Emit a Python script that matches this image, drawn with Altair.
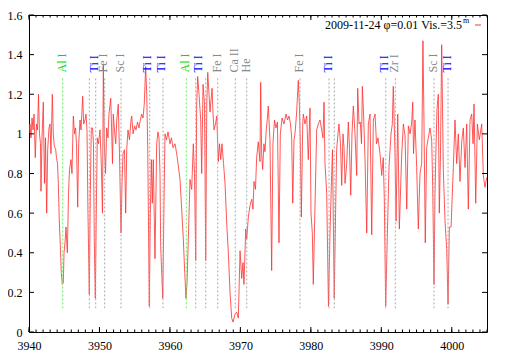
import altair as alt
import pandas as pd

# ---- spectrum ----
wavelength = [
    3940.00, 3940.14, 3940.28, 3940.43, 3940.57, 3940.71, 3940.89, 3941.06, 3941.21, 3941.35,
    3941.49, 3941.63, 3941.70, 3941.85, 3942.03, 3942.13, 3942.20, 3942.34, 3942.51, 3942.65,
    3942.84, 3942.98, 3943.12, 3943.31, 3943.45, 3943.59, 3943.79, 3943.90, 3944.05, 3944.16,
    3944.31, 3944.44, 3944.58, 3944.73, 3944.87, 3944.97, 3945.11, 3945.25, 3945.44, 3945.61,
    3945.75, 3945.96, 3946.10, 3946.29, 3946.46, 3946.60, 3946.74, 3946.91, 3947.05, 3947.24,
    3947.38, 3947.62, 3947.76, 3947.95, 3948.09, 3948.23, 3948.37, 3948.56, 3948.70, 3948.84,
    3949.01, 3949.15, 3949.27, 3949.41, 3949.55, 3949.69, 3949.86, 3950.08, 3950.26, 3950.43,
    3950.55, 3950.69, 3950.86, 3951.03, 3951.21, 3951.35, 3951.60, 3951.74, 3951.85, 3951.96,
    3952.13, 3952.31, 3952.45, 3952.67, 3952.84, 3953.06, 3953.20, 3953.34, 3953.55, 3953.72,
    3953.87, 3954.05, 3954.26, 3954.48, 3954.58, 3954.77, 3954.98, 3955.19, 3955.40, 3955.61,
    3955.75, 3955.99, 3956.18, 3956.36, 3956.56, 3956.71, 3956.85, 3957.07, 3957.22, 3957.36,
    3957.50, 3957.64, 3957.88, 3958.12, 3958.31, 3958.45, 3958.59, 3958.69, 3958.98, 3959.16,
    3959.30, 3959.52, 3959.73, 3960.01, 3960.22, 3960.44, 3960.72, 3960.96, 3961.15, 3961.43,
    3961.67, 3961.90, 3962.10, 3962.28, 3962.43, 3962.61, 3962.85, 3963.09, 3963.32, 3963.49,
    3963.66, 3963.80, 3963.94, 3964.13, 3964.37, 3964.51, 3964.70, 3964.91, 3965.08, 3965.23,
    3965.37, 3965.55, 3965.69, 3965.98, 3966.12, 3966.26, 3966.47, 3966.64, 3966.87, 3967.04,
    3967.21, 3967.39, 3967.61, 3967.82, 3968.06, 3968.29, 3968.53, 3968.77, 3968.96, 3969.24,
    3969.48, 3969.71, 3969.95, 3970.19, 3970.37, 3970.51, 3970.76, 3970.90, 3971.13, 3971.37,
    3971.61, 3971.79, 3971.93, 3972.14, 3972.31, 3972.54, 3972.78, 3972.88, 3973.02, 3973.16,
    3973.34, 3973.49, 3973.67, 3973.81, 3973.96, 3974.20, 3974.44, 3974.62, 3974.84, 3975.05,
    3975.26, 3975.48, 3975.67, 3975.91, 3976.19, 3976.48, 3976.69, 3976.90, 3977.11, 3977.28,
    3977.43, 3977.61, 3977.75, 3977.97, 3978.22, 3978.37, 3978.51, 3978.65, 3978.85, 3978.93,
    3979.17, 3979.41, 3979.64, 3979.88, 3980.02, 3980.21, 3980.35, 3980.59, 3980.83, 3981.06,
    3981.30, 3981.54, 3981.72, 3981.87, 3982.01, 3982.25, 3982.50, 3982.72, 3982.95, 3983.07,
    3983.32, 3983.52, 3983.66, 3983.85, 3983.99, 3984.21, 3984.38, 3984.56, 3984.71, 3984.85,
    3985.09, 3985.32, 3985.49, 3985.66, 3985.84, 3986.03, 3986.27, 3986.51, 3986.65, 3986.84,
    3987.02, 3987.19, 3987.31, 3987.48, 3987.69, 3987.93, 3988.16, 3988.40, 3988.64, 3988.87,
    3989.11, 3989.32, 3989.53, 3989.82, 3990.06, 3990.28, 3990.42, 3990.62, 3990.85, 3991.09,
    3991.38, 3991.56, 3991.70, 3991.95, 3992.09, 3992.33, 3992.56, 3992.90, 3993.13, 3993.37,
    3993.61, 3993.84, 3994.08, 3994.32, 3994.46, 3994.57, 3994.78, 3995.02, 3995.25, 3995.49,
    3995.73, 3995.91, 3996.06, 3996.24, 3996.44, 3996.67, 3996.91, 3997.15, 3997.29, 3997.48,
    3997.62, 3997.76, 3997.91, 3998.09, 3998.23, 3998.40, 3998.57, 3998.80, 3999.04, 3999.28,
    3999.47, 3999.66, 3999.90, 4000.22, 4000.46, 4000.70, 4000.93, 4001.17, 4001.41, 4001.64,
    4001.88, 4002.12, 4002.35, 4002.59, 4002.83, 4003.02, 4003.16, 4003.40, 4003.63, 4003.91,
    4004.25, 4004.48, 4004.72, 4004.96,
]
flux = [
    1.00, 1.05, 0.98, 1.08, 1.02, 1.10, 0.88, 1.05, 1.02, 1.20,
    1.00, 0.95, 0.71, 0.98, 1.16, 0.90, 0.75, 0.98, 0.60, 0.92,
    1.03, 1.05, 0.90, 1.20, 1.00, 0.94, 0.92, 0.88, 0.85, 0.75,
    0.55, 0.44, 0.30, 0.24, 0.25, 0.40, 0.45, 0.53, 0.40, 0.70,
    0.82, 0.87, 0.80, 1.09, 1.00, 1.03, 0.95, 0.63, 0.95, 1.07,
    1.02, 1.19, 1.05, 1.07, 1.10, 1.02, 0.60, 0.19, 0.70, 1.03,
    1.03, 0.95, 0.45, 0.17, 0.60, 0.98, 0.95, 1.02, 0.85, 0.60,
    1.35, 0.95, 0.80, 1.03, 0.98, 1.10, 1.18, 1.00, 0.85, 1.10,
    1.02, 0.95, 1.07, 1.15, 0.90, 0.50, 0.75, 0.90, 0.92, 0.60,
    0.92, 1.02, 0.97, 1.07, 1.09, 1.00, 1.04, 1.02, 1.06, 1.03,
    1.06, 1.10, 1.08, 1.15, 1.34, 1.20, 0.94, 0.13, 0.60, 0.87,
    0.65, 0.87, 0.37, 0.95, 1.01, 0.98, 0.80, 0.43, 0.17, 0.65,
    1.00, 0.97, 1.01, 0.95, 0.98, 0.93, 0.95, 0.90, 0.85, 0.77,
    0.62, 0.47, 0.30, 0.17, 0.25, 0.47, 0.77, 0.72, 0.95, 0.80,
    0.36, 1.15, 1.29, 1.20, 1.07, 0.80, 1.25, 1.15, 0.36, 1.15,
    1.31, 1.20, 1.11, 1.23, 1.10, 1.02, 1.05, 1.09, 0.86, 0.95,
    0.87, 0.95, 0.85, 0.75, 0.55, 0.40, 0.20, 0.07, 0.05, 0.09,
    0.10, 0.07, 0.41, 0.27, 0.35, 0.24, 0.52, 0.47, 0.58, 0.64,
    0.67, 0.62, 0.76, 0.72, 0.88, 0.96, 0.86, 1.26, 0.90, 0.82,
    0.95, 0.91, 1.02, 1.07, 1.14, 0.97, 0.31, 0.95, 1.07, 1.03,
    1.06, 0.45, 1.00, 1.08, 1.05, 1.10, 1.07, 1.09, 1.05, 0.98,
    0.65, 0.97, 1.00, 1.10, 1.27, 1.15, 0.95, 0.58, 1.05, 1.10,
    1.05, 1.09, 0.87, 1.13, 0.60, 0.50, 0.24, 0.64, 1.02, 1.05,
    1.07, 1.02, 0.98, 1.16, 0.85, 0.70, 0.13, 0.50, 0.79, 0.92,
    0.17, 0.62, 0.92, 1.00, 1.05, 0.95, 0.74, 1.00, 0.93, 0.75,
    0.85, 1.06, 0.92, 0.69, 1.00, 1.14, 1.00, 0.79, 1.23, 1.05,
    1.06, 0.95, 1.24, 1.10, 0.87, 0.50, 1.05, 1.10, 0.49, 1.07,
    1.10, 0.95, 0.98, 0.90, 0.79, 0.88, 0.68, 0.13, 0.48, 0.83,
    1.00, 1.05, 1.24, 0.89, 0.56, 1.10, 0.52, 0.90, 1.05, 0.99,
    0.62, 1.04, 1.00, 1.06, 1.16, 0.90, 1.07, 0.83, 0.52, 0.80,
    0.85, 1.47, 1.05, 0.45, 0.93, 0.98, 1.03, 0.97, 0.74, 0.24,
    0.70, 0.93, 1.13, 1.20, 0.60, 0.90, 1.45, 0.82, 0.56, 0.42,
    0.14, 0.53, 0.53, 0.83, 1.07, 0.85, 1.00, 0.76, 0.96, 1.03,
    0.83, 1.05, 0.62, 1.07, 1.10, 0.95, 1.15, 0.65, 1.05, 0.97,
    1.05, 0.79, 0.73, 0.78,
]

# ---- identified lines (dashed markers) ----
marker_wl = [3944.78, 3948.56, 3949.47, 3950.74, 3953.06, 3957.13, 3959.02, 3962.33,
             3963.66, 3965.08, 3966.78, 3969.28, 3970.90, 3978.46, 3982.58, 3983.33,
             3990.63, 3991.99, 3997.48, 3999.47]
marker_el = ["Al I", "Ti I", "Ti I", "Fe I", "Sc I", "Ti I", "Ti I", "Al I",
             "Ti I", "Ti I", "Fe I", "Ca II", "He", "Fe I", "Ti I", "Ti I",
             "Ti I", "Zr I", "Sc I", "Ti I"]

# ---- line labels ----
label_wl = [3944.64, 3949.27, 3950.55, 3952.92, 3956.70, 3958.73, 3962.18, 3964.00,
            3966.73, 3969.14, 3970.76, 3978.32, 3982.44, 3990.43, 3991.85, 3997.39, 3999.28]
label_text = ["Al I", "Ti I", "Fe I", "Sc I", "Ti I", "Ti I", "Al I", "Ti I",
              "Fe I", "Ca II", "He", "Fe I", "Ti I", "Ti I", "Zr I", "Sc I", "Ti I"]

x_major = [3940, 3950, 3960, 3970, 3980, 3990, 4000]
x_minor = list(range(3940, 4006))
y_major = [0, 0.2, 0.4, 0.6, 0.8, 1.0, 1.2, 1.4, 1.6]

legend_text = ["2009-11-24 \u03c6=0.01 Vis.=3.5"]
legend_sup = ["m"]

W, H = 458, 317
FONT = "Liberation Serif"

xs = alt.Scale(domain=[3940, 4005], nice=False, zero=False)
ys = alt.Scale(domain=[0, 1.6], nice=False, zero=False)

x_axis = alt.Axis(values=x_major, format="d", title=None, grid=False, ticks=False, tickSize=0,
                  domain=False, labelFont=FONT, labelFontSize=12, labelColor="black",
                  labelPadding=8, labelOverlap=False, labelFlush=False, labelBound=False)
y_axis = alt.Axis(values=y_major, format="~g", title=None, grid=False, ticks=False, tickSize=0,
                  domain=False, labelFont=FONT, labelFontSize=12, labelColor="black",
                  labelPadding=7, labelOverlap=False, labelFlush=False, labelBound=False)

spec_df = pd.DataFrame({"wl": wavelength, "flux": flux})
mark_df = pd.DataFrame({"wl": marker_wl, "el": marker_el})
lab_df = pd.DataFrame({"wl": label_wl, "name": label_text})

spectrum = alt.Chart(spec_df).mark_line(color="#ff3030", strokeWidth=0.9, opacity=0.9,
                                        clip=True).encode(
    x=alt.X("wl:Q", scale=xs, axis=x_axis),
    y=alt.Y("flux:Q", scale=ys, axis=y_axis),
)

markers = alt.Chart(mark_df).mark_rule(strokeDash=[2, 2], strokeWidth=1).encode(
    x=alt.X("wl:Q", scale=xs, axis=x_axis),
    y=alt.YDatum(1.28, scale=ys, axis=y_axis),
    y2=alt.datum(0.12),
    color=alt.condition(alt.datum.el == "Al I", alt.value("#66ee66"), alt.value("#aaaaaa")),
)

labels = alt.Chart(lab_df).mark_text(angle=270, align="left", baseline="middle",
                                     font=FONT, fontSize=12).encode(
    x=alt.X("wl:Q", scale=xs, axis=x_axis),
    y=alt.YDatum(1.31, scale=ys, axis=y_axis),
    text="name:N",
    color=alt.Color("name:N", legend=None, scale=alt.Scale(
        domain=["Al I", "Ti I", "Fe I", "Sc I", "Ca II", "He", "Zr I"],
        range=["#00dd00", "#0000ff", "#888888", "#888888", "#888888", "#888888", "#888888"])),
)

def xticks(vals, y0, y1):
    return alt.Chart(pd.DataFrame({"t": vals})).mark_rule(color="black", strokeWidth=1).encode(
        x=alt.X("t:Q", scale=xs, axis=x_axis), y=alt.value(y0), y2=alt.value(y1))

def yticks(vals, x0, x1):
    return alt.Chart(pd.DataFrame({"t": vals})).mark_rule(color="black", strokeWidth=1).encode(
        y=alt.Y("t:Q", scale=ys, axis=y_axis), x=alt.value(x0), x2=alt.value(x1))

ticks = [
    xticks(x_major, H, H - 5), xticks(x_minor, H, H - 2.5),
    xticks(x_major, 0, 5), xticks(x_minor, 0, 2.5),
    yticks(y_major, 0, 5), yticks(y_major, W, W - 5),
]

leg = alt.Chart(pd.DataFrame({"t": legend_text})).mark_text(
    align="right", baseline="alphabetic", font=FONT, fontSize=12, color="black").encode(
    x=alt.value(433), y=alt.value(14), text="t:N")
leg_sup = alt.Chart(pd.DataFrame({"t": legend_sup})).mark_text(
    align="left", baseline="alphabetic", font=FONT, fontSize=8, color="black").encode(
    x=alt.value(434), y=alt.value(8), text="t:N")
leg_line = alt.Chart(pd.DataFrame({"t": legend_text})).mark_rule(color="#ff3030", strokeWidth=1).encode(
    x=alt.value(446), x2=alt.value(452), y=alt.value(10))

chart = alt.layer(spectrum, markers, labels, *ticks, leg, leg_sup, leg_line).properties(
    width=W, height=H,
    autosize=alt.AutoSizeParams(type="none"),
    padding={"left": 21, "top": 7, "right": 14, "bottom": 20},
).configure_view(stroke="black", strokeWidth=1).configure_axis(
    labelOverlap=False, labelFlush=False, labelBound=False
)

chart.save("out.html", embed_options={"renderer": "svg", "actions": False})
